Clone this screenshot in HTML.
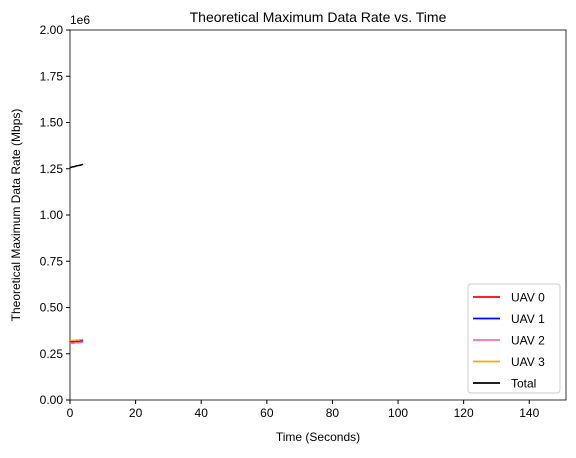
<!DOCTYPE html>
<html><head><meta charset="utf-8"><style>
body{margin:0;background:#fff;font-family:"Liberation Sans",sans-serif}
text{font-family:"Liberation Sans",sans-serif;fill:#000}
</style></head><body>
<svg id="c" width="576" height="453"></svg>
<script>
const times=[0,0.5,1,1.5,2,2.5,3,3.5,4];
const uav0=[312000,313000,314000,313000,315000,316000,317000,318000,319000];
const uav1=[318000,317000,319000,320000,319000,321000,322000,321000,323000];
const uav2=[305000,308000,307000,309000,310000,309000,311000,312000,313000];
const uav3=[322000,321000,323000,322000,324000,323000,325000,326000,327000];
const total=[1255000,1259000,1261000,1262000,1266000,1267000,1269000,1271000,1275000];
const xTicks=[0,20,40,60,80,100,120,140];
const yTicks=[0,250000,500000,750000,1000000,1250000,1500000,1750000,2000000];
const yLabels=["0.00","0.25","0.50","0.75","1.00","1.25","1.50","1.75","2.00"];
const L=70,R=566,T=30,B=400,XMAX=151.2,YMAX=2000000;
const xs=v=>L+v/XMAX*(R-L), ys=v=>B-v/YMAX*(B-T);
const svg=document.getElementById('c');const NS='http://www.w3.org/2000/svg';
function mk(t,a,p){const e=document.createElementNS(NS,t);for(const k in a)e.setAttribute(k,a[k]);(p||svg).appendChild(e);return e;}
const ax=mk('g',{});


xTicks.forEach(v=>{const x=xs(v);mk('line',{x1:x,x2:x,y1:B,y2:B+4,stroke:'#000'},ax);const t=mk('text',{x:x,y:B+17,'font-size':12,'text-anchor':'middle'},ax);t.textContent=v;

});
yTicks.forEach((v,i)=>{const y=ys(v);mk('line',{x1:L-4,x2:L,y1:y,y2:y,stroke:'#000'},ax);const t=mk('text',{x:L-7,y:y+4,'font-size':12,'text-anchor':'end'},ax);t.textContent=yLabels[i];

});
const series=[[uav0,'red'],[uav1,'blue'],[uav2,'#ff69b4'],[uav3,'orange'],[total,'#000']];
series.forEach((s,i)=>{const p=mk('polyline',{points:s[0].map((v,j)=>xs(times[j])+','+ys(v)).join(' '),fill:'none',stroke:s[1],'stroke-width':1.5});

});
mk('rect',{x:L,y:T,width:R-L,height:B-T,fill:'none',stroke:'#000','stroke-width':0.8},ax);
let t=mk('text',{x:318,y:22,'font-size':14,'text-anchor':'middle'});t.textContent='Theoretical Maximum Data Rate vs. Time';


t=mk('text',{x:318,y:441,'font-size':12,'text-anchor':'middle'});t.textContent='Time (Seconds)';


t=mk('text',{x:0,y:0,'font-size':12,'text-anchor':'middle',transform:'translate(20,215) rotate(-90)'});t.textContent='Theoretical Maximum Data Rate (Mbps)';


t=mk('text',{x:70,y:24,'font-size':12});t.textContent='1e6';


const lg=mk('g',{});


mk('rect',{x:468,y:284,width:92,height:109,rx:3,fill:'#fff',stroke:'#ccc'},lg);
const names=['UAV 0','UAV 1','UAV 2','UAV 3','Total'];
names.forEach((n,i)=>{const y=297+i*21.5;mk('line',{x1:473,x2:500,y1:y,y2:y,stroke:series[i][1],'stroke-width':1.8},lg);const tt=mk('text',{x:511,y:y+4.5,'font-size':12},lg);tt.textContent=n;

});
</script>
</body></html>
